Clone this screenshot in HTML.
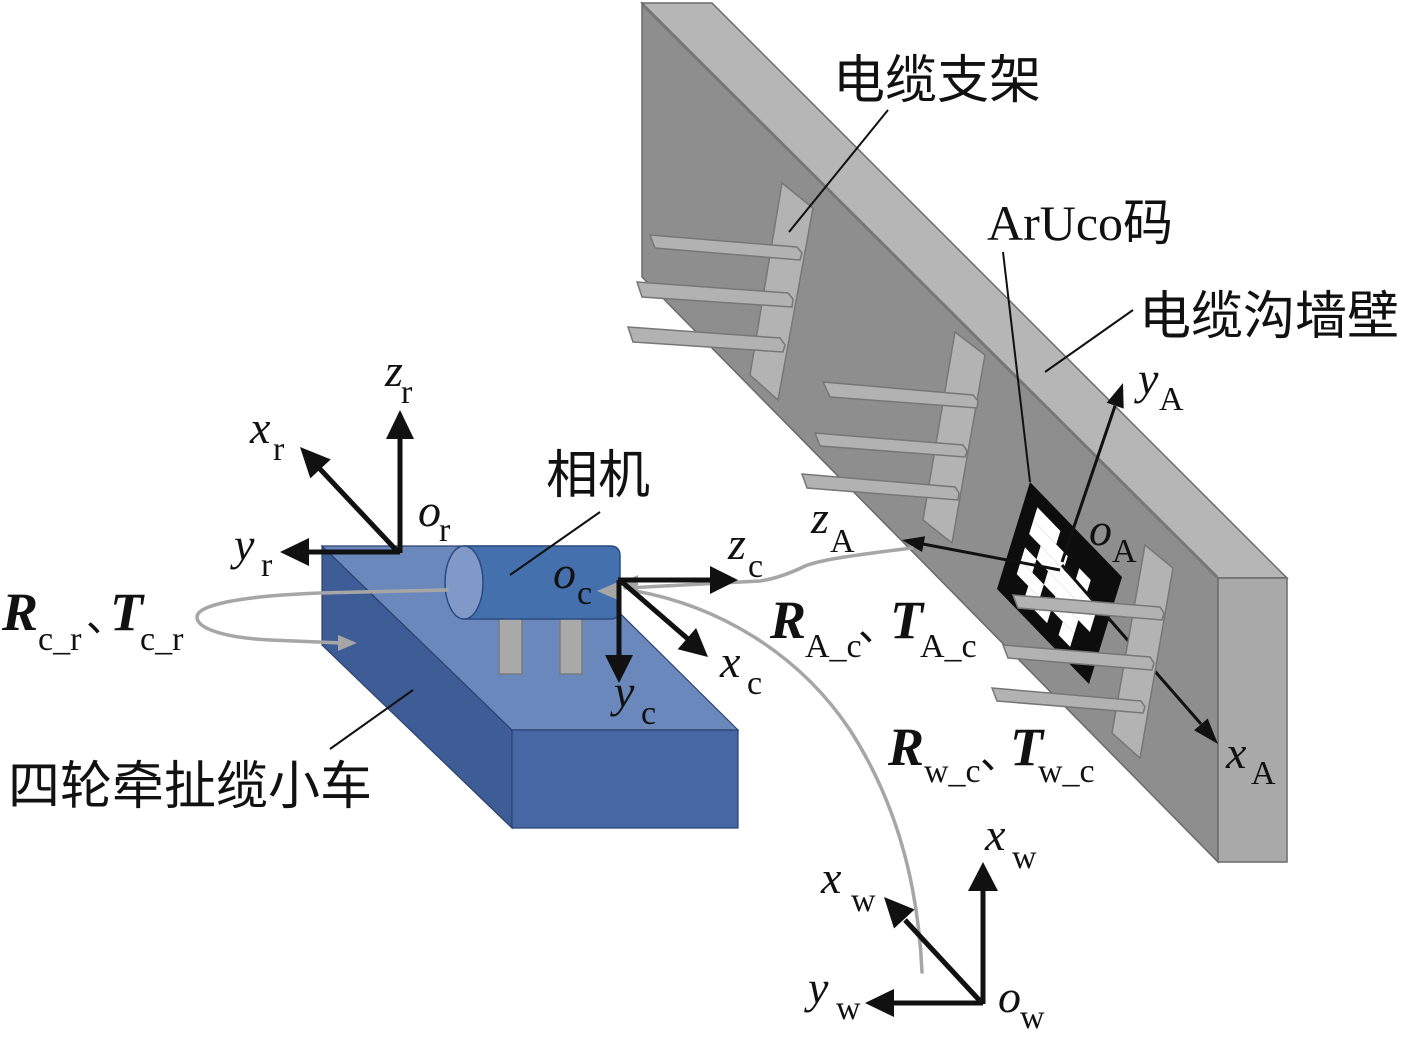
<!DOCTYPE html>
<html>
<head>
<meta charset="utf-8">
<style>
  html, body { margin: 0; padding: 0; background: #ffffff; }
  svg { display: block; }
  .mi { font-family: "Liberation Serif", serif; font-style: italic; font-size: 46px; fill: #111; }
  .sub { font-family: "Liberation Serif", serif; font-size: 34px; fill: #111; }
  .bi { font-family: "Liberation Serif", serif; font-style: italic; font-weight: bold; font-size: 54px; fill: #111; }
  .cjk { font-family: "Liberation Sans", "Noto Sans CJK SC", sans-serif; font-size: 52px; fill: #111; }
  .dun { font-family: "Noto Sans CJK SC", sans-serif; font-size: 40px; fill: #111; }
  .aru { font-family: "Liberation Serif", "Noto Sans CJK SC", serif; font-size: 50px; fill: #111; }
</style>
</head>
<body>
<svg width="1414" height="1037" viewBox="0 0 1414 1037" xmlns="http://www.w3.org/2000/svg">
  <rect x="0" y="0" width="1414" height="1037" fill="#ffffff"/>

  <!-- ===== WALL ===== -->
  <polygon points="642,3 1218,578 1218,862 642,277" fill="#8e8e8e" stroke="#6a6a6a" stroke-width="1.5"/>
  <polygon points="642,3 712,3 1287,578 1218,578" fill="#b6b6b6" stroke="#6a6a6a" stroke-width="1.5"/>
  <polygon points="1218,578 1287,578 1287,862 1218,862" fill="#a9a9a9" stroke="#6a6a6a" stroke-width="1.5"/>
  <line x1="643" y1="5" x2="1217" y2="577" stroke="#777" stroke-width="3"/>

  <!-- Bracket set 1 -->
  <polygon points="782,183 813,208 778,400 750,375" fill="#b3b3b3" stroke="#777" stroke-width="1.5"/>
  <polygon points="650,235 797,247 802,253 800,260 655,248" fill="#b2b2b2" stroke="#777" stroke-width="1.5"/>
  <polygon points="637,282 788,293 793,299 792,307 642,297" fill="#b2b2b2" stroke="#777" stroke-width="1.5"/>
  <polygon points="628,327 780,338 785,345 783,352 633,342" fill="#b2b2b2" stroke="#777" stroke-width="1.5"/>

  <!-- Bracket set 2 -->
  <polygon points="955,332 985,355 952,543 923,520" fill="#b3b3b3" stroke="#777" stroke-width="1.5"/>
  <polygon points="823,382 973,395 978,401 977,408 830,397" fill="#b2b2b2" stroke="#777" stroke-width="1.5"/>
  <polygon points="815,433 963,445 967,451 965,457 820,446" fill="#b2b2b2" stroke="#777" stroke-width="1.5"/>
  <polygon points="802,474 955,487 959,493 958,500 807,488" fill="#b2b2b2" stroke="#777" stroke-width="1.5"/>

  <!-- ArUco marker -->
  <g transform="matrix(11.5,11.875,-4.125,13.375,1030,482)">
    <rect x="0" y="0" width="8" height="8" fill="#0d0d0d"/>
    <g fill="#ffffff">
      <rect x="1" y="1" width="2" height="1"/>
      <rect x="1" y="2" width="3" height="1"/><rect x="5" y="2" width="1" height="1"/>
      <rect x="2" y="3" width="5" height="1"/>
      <rect x="1" y="4" width="1" height="1"/><rect x="3" y="4" width="4" height="1"/>
      <rect x="1" y="5" width="2" height="1"/><rect x="4" y="5" width="2" height="1"/>
      <rect x="2" y="6" width="2" height="1"/><rect x="5" y="6" width="1" height="1"/>
    </g>
  </g>

  <!-- Wall axes -->
  <g stroke="#111" stroke-width="3" fill="none">
    <line x1="1062" y1="562" x2="1115" y2="406"/>
    <line x1="1062" y1="565" x2="1201" y2="724"/>
    <line x1="1060" y1="570" x2="923" y2="544"/>
  </g>
  <g fill="#111">
    <polygon points="1123,383 1123.7,408.6 1106.7,402.8"/>
    <polygon points="1218,744 1194.1,730.3 1207.7,718.5"/>
    <polygon points="902,540 925.1,536.2 922.1,552"/>
  </g>

  <!-- Bracket set 3 -->
  <polygon points="1145,545 1173,568 1140,758 1112,733" fill="#b3b3b3" stroke="#777" stroke-width="1.5"/>
  <polygon points="1013,595 1160,607 1164,613 1162,620 1018,608" fill="#b2b2b2" stroke="#777" stroke-width="1.5"/>
  <polygon points="1003,645 1150,657 1154,663 1152,670 1008,658" fill="#b2b2b2" stroke="#777" stroke-width="1.5"/>
  <polygon points="992,688 1141,701 1145,707 1143,713 997,701" fill="#b2b2b2" stroke="#777" stroke-width="1.5"/>

  <!-- ===== CART ===== -->
  <polygon points="322,546 512,730 512,828 322,645" fill="#3e5d96" stroke="#2c4270" stroke-width="1.2"/>
  <polygon points="322,546 552,546 738,730 512,730" fill="#6b88bd" stroke="#2c4270" stroke-width="1.2"/>
  <polygon points="512,730 738,730 738,828 512,828" fill="#4667a4" stroke="#2c4270" stroke-width="1.2"/>

  <!-- camera legs -->
  <rect x="499" y="618" width="23" height="56" fill="#a9a9a9" stroke="#7a7a7a" stroke-width="1.5"/>
  <rect x="560" y="618" width="22" height="56" fill="#a9a9a9" stroke="#7a7a7a" stroke-width="1.5"/>
  <!-- camera body -->
  <path d="M464,546 L610,546 Q620,546 620,556 L620,609 Q620,619 610,619 L464,619 Z" fill="#4470ae" stroke="#2a4a80" stroke-width="1.5"/>
  <ellipse cx="464" cy="582.5" rx="19" ry="36.5" fill="#8199c8" stroke="#2a4a80" stroke-width="1.5"/>

  <!-- ===== GRAY TRANSFORM CURVES ===== -->
  <g fill="none" stroke="#a6a6a6" stroke-width="3.5" stroke-linecap="round">
    <path d="M447,590 L320,593 C240,596 197,605 197,617 C197,630 230,638 270,640 L342,643"/>
    <path d="M625,588 L760,581 C780,578 795,571 805,566 C820,560 850,556 880,552 L912,548"/>
    <path d="M922,972 C918,880 895,800 850,730 C800,655 720,605 630,590"/>
  </g>
  <g fill="#a6a6a6">
    <polygon points="357,643 338,635 338,651"/>
    <polygon points="597,591 618,582 618,600"/>
    <polygon points="618,584 638,575 638,593"/>
  </g>

  <!-- ===== CART AXES ===== -->
  <g stroke="#111" stroke-width="5" fill="none">
    <line x1="400" y1="553" x2="400" y2="436"/>
    <line x1="400" y1="552" x2="306" y2="552"/>
    <line x1="398" y1="552" x2="320" y2="469"/>
    <line x1="618" y1="580" x2="712" y2="580"/>
    <line x1="619" y1="580" x2="619" y2="657"/>
    <line x1="622" y1="582" x2="688" y2="639"/>
  </g>
  <g fill="#111">
    <polygon points="400,410 386,439 414,439"/>
    <polygon points="280,552 309,538 309,566"/>
    <polygon points="300,447 330.7,459.4 310.3,478.4"/>
    <polygon points="738,580 710,566 710,594"/>
    <polygon points="619,683 605,655 633,655"/>
    <polygon points="708,657 677.7,649.2 696.1,628"/>
  </g>

  <!-- ===== WORLD AXES ===== -->
  <g stroke="#111" stroke-width="5" fill="none">
    <line x1="983" y1="1004" x2="983" y2="888"/>
    <line x1="983" y1="1003" x2="891" y2="1003"/>
    <line x1="981" y1="1002" x2="905" y2="920"/>
  </g>
  <g fill="#111">
    <polygon points="983,862 968,891 998,891"/>
    <polygon points="865,1003 894,989 894,1017"/>
    <polygon points="884,897 914.6,909.5 894,928.5"/>
  </g>

  <!-- ===== LEADER LINES ===== -->
  <g stroke="#111" stroke-width="2" fill="none">
    <line x1="888" y1="110" x2="789" y2="232"/>
    <line x1="1003" y1="252" x2="1030" y2="482"/>
    <line x1="1133" y1="310" x2="1045" y2="372"/>
    <line x1="600" y1="512" x2="510" y2="575"/>
    <line x1="413" y1="690" x2="330" y2="749"/>
  </g>

  <!-- ===== CJK LABELS ===== -->
  <text class="cjk" x="833" y="98">电缆支架</text>
  <text class="aru" x="987" y="240">ArUco码</text>
  <text class="cjk" x="1139" y="334">电缆沟墙壁</text>
  <text class="cjk" x="546" y="493">相机</text>
  <text class="cjk" x="8" y="804">四轮牵扯缆小车</text>

  <!-- ===== AXIS LABELS ===== -->
  <text class="mi" x="385" y="386">z</text><text class="sub" x="401" y="403">r</text>
  <text class="mi" x="250" y="443">x</text><text class="sub" x="273" y="460">r</text>
  <text class="mi" x="418" y="526">o</text><text class="sub" x="439" y="541">r</text>
  <text class="mi" x="234" y="560">y</text><text class="sub" x="261" y="576">r</text>

  <text class="mi" x="728" y="559">z</text><text class="sub" x="748" y="577">c</text>
  <text class="mi" x="553" y="588">o</text><text class="sub" x="577" y="604">c</text>
  <text class="mi" x="720" y="677">x</text><text class="sub" x="747" y="694">c</text>
  <text class="mi" x="614" y="707">y</text><text class="sub" x="641" y="724">c</text>

  <text class="mi" x="811" y="533">z</text><text class="sub" x="830" y="552">A</text>
  <text class="mi" x="1089" y="545">o</text><text class="sub" x="1112" y="562">A</text>
  <text class="mi" x="1138" y="394">y</text><text class="sub" x="1159" y="410">A</text>
  <text class="mi" x="1226" y="768">x</text><text class="sub" x="1251" y="784">A</text>

  <text class="mi" x="985" y="850">x</text><text class="sub" x="1012" y="868">w</text>
  <text class="mi" x="821" y="893">x</text><text class="sub" x="851" y="911">w</text>
  <text class="mi" x="808" y="1003">y</text><text class="sub" x="836" y="1019">w</text>
  <text class="mi" x="998" y="1012">o</text><text class="sub" x="1020" y="1028">w</text>

  <!-- ===== TRANSFORM LABELS ===== -->
  <text class="bi" x="2" y="630">R</text><text class="sub" x="38" y="650">c_r</text>
  <text class="dun" x="86" y="631">、</text>
  <text class="bi" x="110" y="630">T</text><text class="sub" x="140" y="650">c_r</text>

  <text class="bi" x="770" y="638">R</text><text class="sub" x="805" y="657">A_c</text>
  <text class="dun" x="858" y="640">、</text>
  <text class="bi" x="890" y="638">T</text><text class="sub" x="920" y="657">A_c</text>

  <text class="bi" x="888" y="765">R</text><text class="sub" x="924" y="782">w_c</text>
  <text class="dun" x="980" y="768">、</text>
  <text class="bi" x="1010" y="765">T</text><text class="sub" x="1038" y="782">w_c</text>
</svg>
</body>
</html>
